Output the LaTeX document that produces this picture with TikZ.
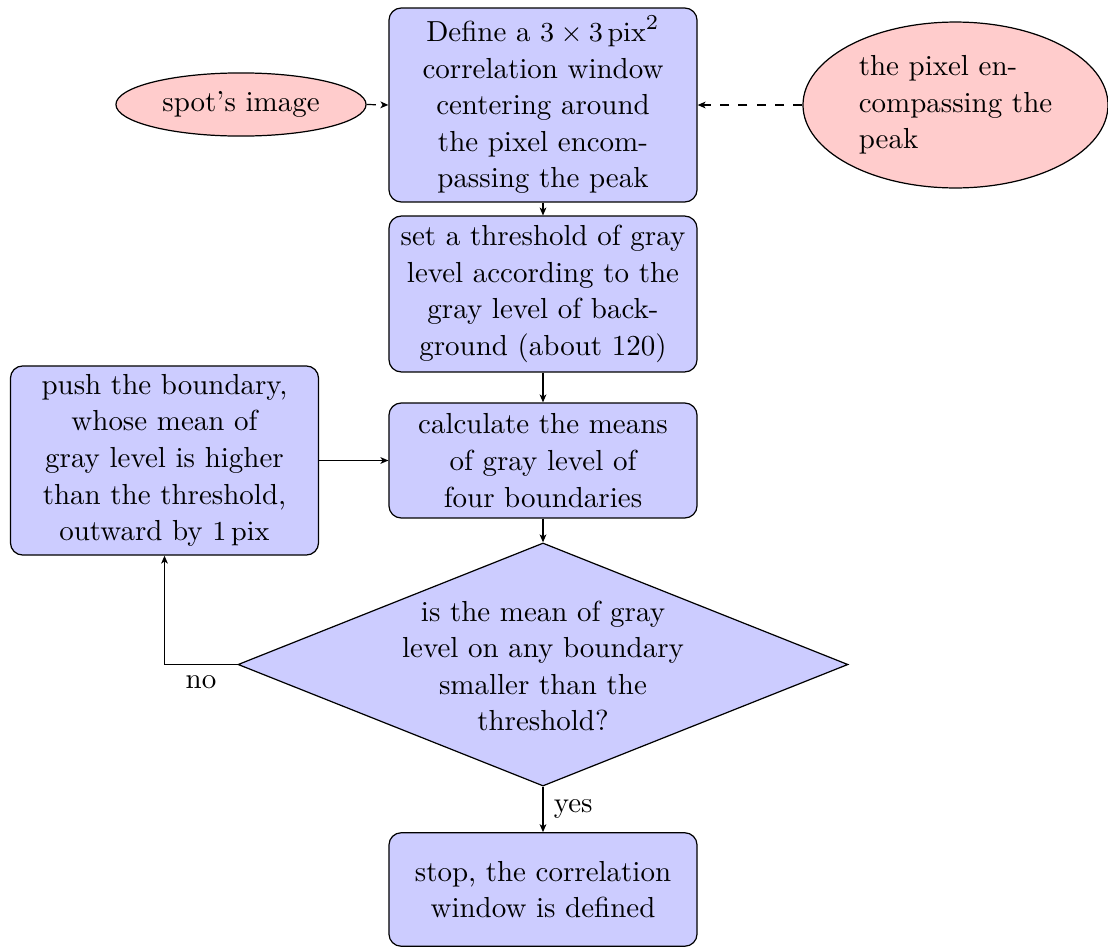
\documentclass[tikz,border=0pt]{standalone}
\usetikzlibrary{shapes.geometric,arrows.meta}
\begin{document}
\begin{tikzpicture}[x=0.32787pt,y=-0.32787pt,
  every node/.style={font=\fontsize{9.5}{12}\selectfont},
  block/.style={rectangle,draw,fill=blue!20,rounded corners=4pt,align=center,
    minimum width=101pt,inner sep=2pt},
  cloud/.style={ellipse,draw,fill=red!20,inner sep=0pt},
  decision/.style={diamond,draw,fill=blue!20,inner sep=0pt,
    minimum width=200pt,minimum height=79.7pt},
  line/.style={draw,-{Stealth[length=2.6pt,width=2.2pt,inset=0.7pt]}},
  dline/.style={line,dashed}]
\useasboundingbox (0,0) rectangle (1108,947);
\node[block,minimum height=63.6pt] (define) at (543,105)
  {Define a $3\times3\,\mathrm{pix}^2$\\correlation window\\centering around\\the pixel encom-\\passing the peak};
\node[block,minimum height=51.1pt] (thresh) at (543,294)
  {set a threshold of gray\\level according to the\\gray level of back-\\ground (about 120)};
\node[block,minimum height=37.7pt] (means) at (543,460.5)
  {calculate the means\\of gray level of\\four boundaries};
\node[block,minimum height=62pt] (push) at (164.5,460.5)
  {push the boundary,\\whose mean of\\gray level is higher\\than the threshold,\\outward by $1\,\mathrm{pix}$};
\node[decision] (dec) at (543,664.5) {};
\node[align=center] (dectext) at (543,666)
  {is the mean of gray\\level on any boundary\\smaller than the\\threshold?};
\node[block,minimum height=37.2pt] (stop) at (543,889.5)
  {stop, the correlation\\window is defined};
\node[cloud,minimum width=82pt,minimum height=20.7pt] (spot) at (241,104.5) {spot's image};
\node[cloud,minimum width=100pt,minimum height=54.4pt,align=left] (peak) at (955.5,105)
  {the pixel en-\\compassing the\\peak};
\path[dline] (spot.east) -- (define.west);
\path[dline] (peak.west) -- (define.east);
\path[line] (define.south) -- (thresh.north);
\path[line] (thresh.south) -- (means.north);
\path[line] (means.south) -- (dec.north);
\path[line] (dec.south) -- node[right] {yes} (stop.north);
\path[line] (dec.west) -| node[below,pos=0.25] {no} (push.south);
\path[line] (push.east) -- (means.west);
\end{tikzpicture}
\end{document}
